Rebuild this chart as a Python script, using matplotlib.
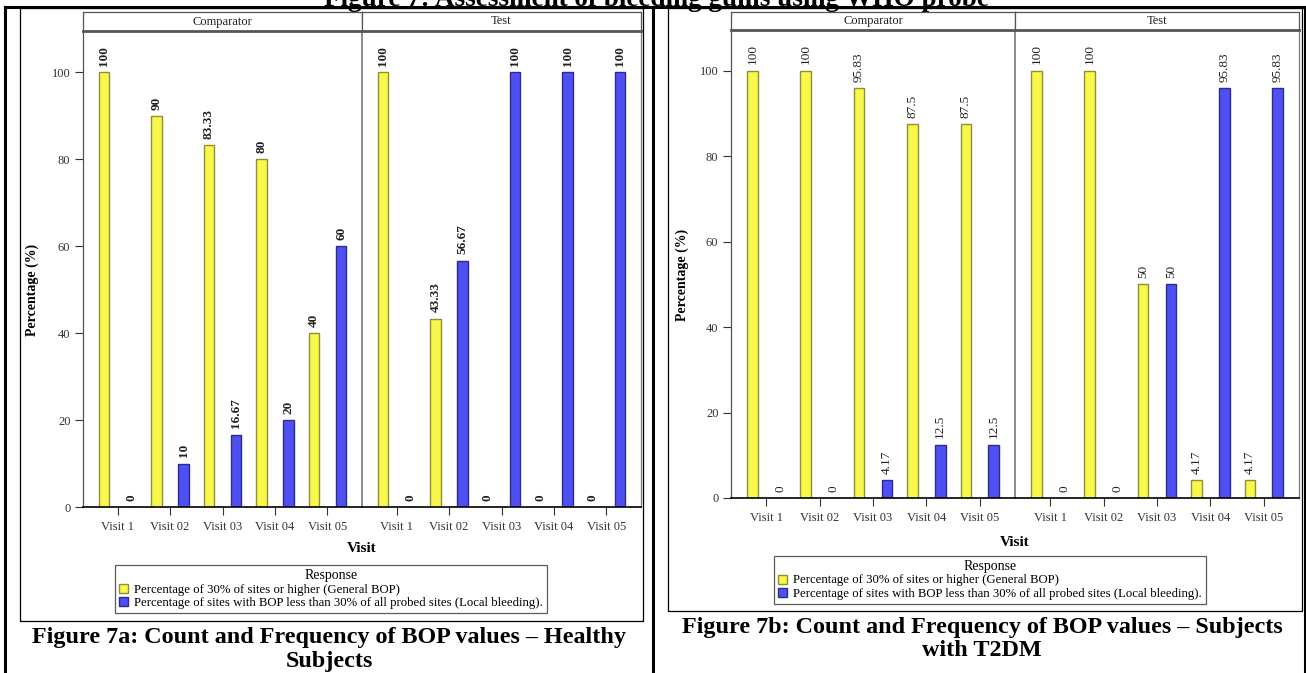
import numpy as np
import matplotlib.pyplot as plt
from matplotlib.patches import Patch

W, H = 1306, 673

visits = ["Visit 1", "Visit 02", "Visit 03", "Visit 04", "Visit 05"]
groups = ["Comparator", "Test"]
response_labels = [
    "Percentage of 30% of sites or higher (General BOP)",
    "Percentage of sites with BOP less than 30% of all probed sites (Local bleeding).",
]

# Healthy subjects (%)
healthy_comp_general = [100, 90, 83.33, 80, 40]
healthy_comp_local = [0, 10, 16.67, 20, 60]
healthy_test_general = [100, 43.33, 0, 0, 0]
healthy_test_local = [0, 56.67, 100, 100, 100]

# Subjects with T2DM (%)
t2dm_comp_general = [100, 100, 95.83, 87.5, 87.5]
t2dm_comp_local = [0, 0, 4.17, 12.5, 12.5]
t2dm_test_general = [100, 100, 50, 4.17, 4.17]
t2dm_test_local = [0, 0, 50, 95.83, 95.83]

YELLOW = "#f8f84c"
YELLOW_EDGE = "#8f8f35"
BLUE = "#4f4ff2"
BLUE_EDGE = "#2c2c90"
SERIF = "Liberation Serif"

plt.rcParams["font.family"] = SERIF


def px_axes(fig, x0, y0, x1, y1):
    """Axes placed by pixel box (top-left origin)."""
    return fig.add_axes([x0 / W, 1 - y1 / H, (x1 - x0) / W, (y1 - y0) / H])


def draw_chart(fig, page, box, panel, series, label_weight):
    left, right, strip_top, strip_bot, axis_y = panel
    divider = (left + right) / 2
    xs = np.arange(len(visits))

    # chart image border
    bx0, by0, bx1, by1 = box
    page.plot([bx0, bx1, bx1, bx0, bx0], [by0, by0, by1, by1, by0],
              color="black", lw=0.9)

    edges = [(left, divider), (divider, right)]
    for i, (grp, (general, local)) in enumerate(zip(groups, series)):
        x0, x1 = edges[i]
        ax = px_axes(fig, x0, strip_bot, x1, axis_y)
        ax.bar(xs - 0.26, general, width=0.2, color=YELLOW,
               edgecolor=YELLOW_EDGE, linewidth=1.0)
        ax.bar(xs + 0.26, local, width=0.2, color=BLUE,
               edgecolor=BLUE_EDGE, linewidth=1.0)
        for vals, off in ((general, -0.26), (local, 0.26)):
            for x, v in zip(xs, vals):
                ax.annotate(f"{v:g}", (x + off, v), xytext=(0, 4.5),
                            textcoords="offset points", rotation=90,
                            ha="center", va="bottom", fontsize=9.5,
                            fontweight=label_weight, color="#222222")
        ax.set_xlim(-0.66, len(visits) - 0.34)
        ax.set_ylim(0, 109.5)
        ax.set_xticks(xs)
        ax.set_xticklabels(visits, fontsize=9, color="#333333")
        ax.tick_params(axis="x", length=6, width=0.8, pad=4, color="#333333")
        ax.set_yticks([0, 20, 40, 60, 80, 100])
        if i == 0:
            ax.tick_params(axis="y", length=6, width=0.8, labelsize=9,
                           labelcolor="#333333", color="#333333", pad=3)
        else:
            ax.tick_params(axis="y", length=0, labelleft=False)
        ax.spines["top"].set_visible(False)
        ax.spines["bottom"].set_color("black")
        ax.spines["bottom"].set_linewidth(1.2)
        ax.spines["left"].set_color("#555555" if i == 0 else "#777777")
        ax.spines["left"].set_linewidth(1.2 if i == 1 else 0.9)
        ax.spines["right"].set_color("#777777")
        ax.spines["right"].set_linewidth(0.9)
        if i == 0:
            ax.spines["right"].set_visible(False)

        # facet header
        sax = px_axes(fig, x0, strip_top, x1, strip_bot)
        sax.set_xticks([])
        sax.set_yticks([])
        for s in sax.spines.values():
            s.set_color("#555555")
            s.set_linewidth(0.9)
        sax.spines["bottom"].set_linewidth(2.0)
        sax.text(0.5, 0.5, grp, transform=sax.transAxes, ha="center",
                 va="center", fontsize=9, color="#222222")

    return left, right, divider


def add_legend(fig, handles, cx, cy):
    leg = fig.legend(handles, response_labels, title="Response",
                     loc="center", bbox_to_anchor=(cx / W, 1 - cy / H),
                     fontsize=9.2, title_fontsize=10, frameon=True,
                     fancybox=False, edgecolor="#333333", handlelength=0.7,
                     handleheight=0.7, handletextpad=0.5, borderpad=0.3,
                     labelspacing=0.15, borderaxespad=0)
    leg.get_frame().set_linewidth(0.9)
    return leg


fig = plt.figure(figsize=(W / 100, H / 100), dpi=100)
page = fig.add_axes([0, 0, 1, 1])
page.set_xlim(0, W)
page.set_ylim(H, 0)
page.axis("off")
page.set_zorder(-1)

# document table lines
page.plot([5, 1305], [7, 7], color="black", lw=2.2)
page.plot([5, 5], [7, H], color="black", lw=2.2)
page.plot([653, 653], [7, H], color="black", lw=2.2)
page.plot([1305, 1305], [7, H], color="black", lw=2.2)

page.text(656, -1, "Figure 7: Assessment of bleeding gums using WHO probe",
          ha="center", va="center", fontsize=19.5, fontweight="bold",
          family=SERIF)

handles = [Patch(facecolor=YELLOW, edgecolor=YELLOW_EDGE),
           Patch(facecolor=BLUE, edgecolor=BLUE_EDGE)]

# Figure 7a
l, r, d = draw_chart(fig, page, (20, 8, 643, 621), (83, 641, 12, 31, 507),
                     [(healthy_comp_general, healthy_comp_local),
                      (healthy_test_general, healthy_test_local)], "bold")
page.text(32, 290, "Percentage (%)", rotation=90, ha="center", va="center",
          fontsize=10, fontweight="bold")
page.text((l + r) / 2, 548, "Visit", ha="center", va="center", fontsize=11,
          fontweight="bold")
add_legend(fig, handles, 331, 589)
page.text(329, 637, "Figure 7a: Count and Frequency of BOP values \u2013 Healthy",
          ha="center", va="center", fontsize=17.4, fontweight="bold")
page.text(329, 661, "Subjects", ha="center", va="center", fontsize=17.4,
          fontweight="bold")

# Figure 7b
l, r, d = draw_chart(fig, page, (668, 8, 1302, 611), (731, 1299, 12, 30, 498),
                     [(t2dm_comp_general, t2dm_comp_local),
                      (t2dm_test_general, t2dm_test_local)], "normal")
page.text(682, 275, "Percentage (%)", rotation=90, ha="center", va="center",
          fontsize=10, fontweight="bold")
page.text((l + r) / 2, 543, "Visit", ha="center", va="center", fontsize=11,
          fontweight="bold")
add_legend(fig, handles, 990, 580)
page.text(982, 627, "Figure 7b: Count and Frequency of BOP values \u2013 Subjects",
          ha="center", va="center", fontsize=17.4, fontweight="bold")
page.text(982, 651, "with T2DM", ha="center", va="center", fontsize=17.4,
          fontweight="bold")

fig.savefig("out.png", dpi=100)
